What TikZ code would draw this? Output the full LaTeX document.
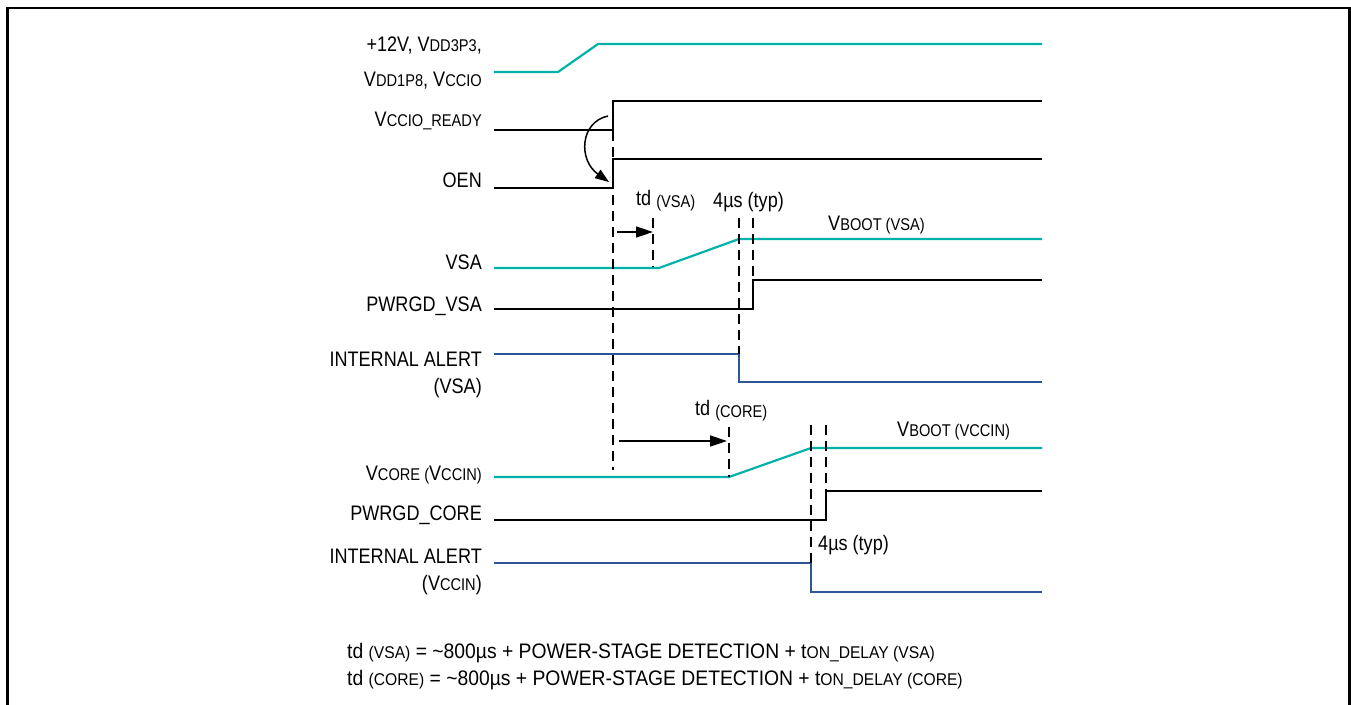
\documentclass[tikz,border=0pt]{standalone}
\usepackage{fontspec}
\setmainfont{Liberation Sans}[FakeStretch=0.86]
\newfontfamily\formfont{Liberation Sans}[FakeStretch=0.92]
\usetikzlibrary{arrows.meta}
\definecolor{sigteal}{RGB}{0,178,169}
\definecolor{sigblue}{RGB}{47,85,151}
\newcommand{\sbs}[1]{{\fontsize{17}{18}\selectfont #1}}
\newcommand{\lsbs}[1]{\raisebox{-2pt}{\fontsize{17}{18}\selectfont #1}}
\tikzset{
  lbl/.style={anchor=base east, inner sep=0pt, font=\fontsize{21}{23}\selectfont},
  ann/.style={anchor=base west, inner sep=0pt, font=\fontsize{21}{23}\selectfont},
  formula/.style={anchor=base west, inner sep=0pt, font=\formfont\fontsize{21}{23}\selectfont},
  sig/.style={line width=2.2pt, line join=miter},
  tealsig/.style={sig, draw=sigteal},
  blacksig/.style={sig, draw=black},
  bluesig/.style={sig, draw=sigblue},
  guide/.style={line width=1.3pt, dash pattern=on 10pt off 6pt},
  delayarrow/.style={line width=1.5pt, -{Triangle[length=17pt,width=11pt]}},
  curvearrow/.style={line width=1.5pt, -{Triangle[length=14pt,width=10pt]}}
}
\begin{document}
\begin{tikzpicture}[x=1pt,y=-1pt]
\useasboundingbox (0,0) rectangle (1351,704);
% frame
\draw[line width=2.2pt] (7.5,720) -- (7.5,7.7) -- (1349.5,7.7) -- (1349.5,720);

% left labels
\node[lbl] (l1a) at (482,51) {+12V, V\sbs{DD3P3},};
\node[lbl] (l1b) at (482,86) {V\sbs{DD1P8}, V\sbs{CCIO}};
\node[lbl] (l2) at (482,126) {V\sbs{CCIO\_READY}};
\node[lbl] (l3) at (482,187) {OEN};
\node[lbl] (l4) at (482,269) {VSA};
\node[lbl] (l5) at (482,311) {PWRGD\_VSA};
\node[lbl] (l6a) at (482,366) {INTERNAL ALERT};
\node[lbl] (l6b) at (482,393) {(VSA)};
\node[lbl] (l7) at (482,480) {V\sbs{CORE (}V\sbs{CCIN)}};
\node[lbl] (l8) at (482,520) {PWRGD\_CORE};
\node[lbl] (l9a) at (482,563) {INTERNAL ALERT};
\node[lbl] (l9b) at (482,590) {(V\sbs{CCIN})};

% waveforms
\draw[tealsig] (494,72) -- (558,72) -- (598,44) -- (1042,44);
\draw[blacksig] (494,130) -- (613,130) -- (613,101) -- (1042,101);
\draw[blacksig] (494,188) -- (613,188) -- (613,159) -- (1042,159);
\draw[tealsig] (494,268) -- (659,268) -- (739,239) -- (1042,239);
\draw[blacksig] (494,309) -- (753,309) -- (753,280) -- (1042,280);
\draw[bluesig] (494,354) -- (739,354) -- (739,382) -- (1042,382);
\draw[tealsig] (494,477) -- (729,477) -- (811,448) -- (1042,448);
\draw[blacksig] (494,520) -- (826,520) -- (826,491) -- (1042,491);
\draw[bluesig] (494,563) -- (811,563) -- (811,592) -- (1042,592);

% guides
\draw[guide] (613,131) -- (613,470);
\draw[guide] (653,218) -- (653,267);
\draw[guide] (739,218) -- (739,354);
\draw[guide] (753,218) -- (753,280);
\draw[guide] (729,427) -- (729,477);
\draw[guide] (811,425) -- (811,563);
\draw[guide] (826,425) -- (826,491);

% arrows
\coordinate (ca) at (608,116);
\coordinate (cb) at (609,182);
\draw[curvearrow] (ca) .. controls (580,122) and (578,160) .. (cb);
\coordinate (va) at (617,232);
\coordinate (vb) at (653,232);
\draw[delayarrow] (va) -- (vb);
\coordinate (ka) at (619,441);
\coordinate (kb) at (727,441);
\draw[delayarrow] (ka) -- (kb);

% annotations
\node[ann] (tdv) at (636,205) {td \lsbs{(VSA)}};
\node[ann] (t4a) at (713,207) {4µs (typ)};
\node[ann] (vbv) at (828,230) {V\sbs{BOOT (VSA)}};
\node[ann] (tdc) at (695,415) {td \lsbs{(CORE)}};
\node[ann] (vbc) at (897,436) {V\sbs{BOOT (VCCIN)}};
\node[ann] (t4b) at (818,550) {4µs (typ)};

% formulas
\node[formula] (f1) at (347,658) {td \sbs{(VSA)} = \textasciitilde 800µs + POWER-STAGE DETECTION + t\sbs{ON\_DELAY (VSA)}};
\node[formula] (f2) at (347,685) {td \sbs{(CORE)} = \textasciitilde 800µs + POWER-STAGE DETECTION + t\sbs{ON\_DELAY (CORE)}};
\end{tikzpicture}
\end{document}
